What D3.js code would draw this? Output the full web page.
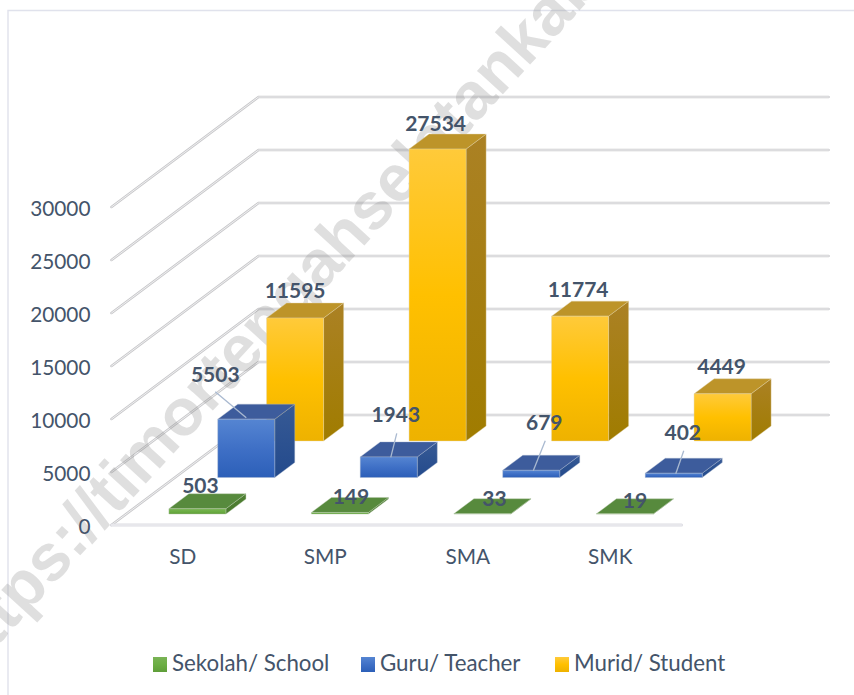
<!DOCTYPE html>
<html><head><meta charset="utf-8">
<script src="https://cdn.jsdelivr.net/npm/d3@7"></script>
<style>html,body{margin:0;padding:0;background:#fff}svg{display:block}text{font-family:Lato,"Open Sans",sans-serif}</style>
</head><body><svg id="c" width="854" height="695"></svg>
<script>
const categories = ["SD","SMP","SMA","SMK"];
const seriesNames = ["Sekolah/ School","Guru/ Teacher","Murid/ Student"];
const sekolah = [503,149,33,19];
const guru = [5503,1943,679,402];
const murid = [11595,27534,11774,4449];
const yTicks = [0,5000,10000,15000,20000,25000,30000];
const watermark = "https://timortengahselatankab";

const svg = d3.select("#c");
const W=854,H=695;
const floorY=525, floorX0=111.5, floorX1=681.5, depthX=147, depthY=110;
const inkText="#44546a";
const x = d3.scaleBand().domain(categories).range([floorX0,floorX1]).paddingInner(0.6).paddingOuter(0.3);
const z = d3.scaleBand().domain(seriesNames).range([0,1]).paddingInner(0.59).paddingOuter(0.3);
const y = d3.scaleLinear().domain([0,30000]).range([0,318]);
const px=(cx,v,d)=>[cx+d*depthX, floorY-y(v)-d*depthY];
const poly=pts=>pts.map(p=>p.join(",")).join(" ");

const defs=svg.append("defs");
function grad(id,stops){const g=defs.append("linearGradient").attr("id",id).attr("x1",0).attr("y1",0).attr("x2",0).attr("y2",1);
 stops.forEach(s=>g.append("stop").attr("offset",s[0]).attr("stop-color",s[1]));}
grad("gF0",[[0,"#7ab356"],[.5,"#6cae44"],[1,"#5f9e39"]]);
grad("gF1",[[0,"#5585d2"],[.5,"#3f70c6"],[1,"#2c5fb8"]]);
grad("gF2",[[0,"#ffca3a"],[.5,"#ffc000"],[1,"#eeb200"]]);
grad("gS1",[[0,"#375a95"],[1,"#234a8c"]]);
grad("gS2",[[0,"#ab8124"],[1,"#a07c00"]]);
grad("gS0",[[0,"#4e7f33"],[1,"#4a7a2e"]]);
const topC=["#578a3d","#3d5c9c","#bd9429"];
const edge=["#b9c9ae","#a9b6cc","#e0d2a6"];

// frame
svg.append("path").attr("d",`M${W} 10.5H8V${H}`).attr("fill","none").attr("stroke","#e0e2ec").attr("stroke-width",1.4);

// grid
const wall=svg.append("g").attr("fill","none").attr("stroke-linecap","round");
yTicks.forEach(t=>{
  const a=px(floorX0,t,0), b=px(floorX0,t,1), c=px(floorX1,t,1);
  const d=`M${a}L${b}L${c}`;
  wall.append("path").attr("d",d).attr("stroke","#c9c9cb").attr("stroke-width",2.6);
  wall.append("path").attr("d",d).attr("stroke","#efeff1").attr("stroke-width",1);
});
const fa=px(floorX0,0,0), fb=px(floorX1,0,0);
wall.append("path").attr("d",`M${fa}L${fb}`).attr("stroke","#dcdce2").attr("stroke-width",3);
wall.append("path").attr("d",`M${fa}L${fb}`).attr("stroke","#f2f2f5").attr("stroke-width",1);

// watermark, behind the bars
svg.append("text").attr("transform","translate(-33,679) rotate(-47.5)")
 .style("font-family","'Liberation Sans',Arial,sans-serif")
 .attr("font-weight",700).attr("font-size",66).attr("fill","#8c8c8c").attr("fill-opacity",.28).text(watermark);

// y axis labels
svg.append("g").selectAll("text").data(yTicks).join("text")
 .attr("x",90.5).attr("y",d=>floorY-y(d)+8.5).attr("text-anchor","end")
 .attr("font-size",20.8).attr("fill",inkText).text(d=>d);
// cat labels
svg.append("g").selectAll("text").data(categories).join("text")
 .attr("x",d=>x(d)+x.bandwidth()/2).attr("y",564).attr("text-anchor","middle")
 .attr("font-size",20.8).attr("fill",inkText).text(d=>d);

// bars, back to front
const series=[sekolah,guru,murid];
for(let s=2;s>=0;s--){
 const name=seriesNames[s], d0=z(name), d1=d0+z.bandwidth();
 categories.forEach((c,i)=>{
  const v=series[s][i], l=x(c), r=l+x.bandwidth();
  const g=svg.append("g").attr("stroke",edge[s]).attr("stroke-width",.4).attr("stroke-linejoin","round");
  g.append("polygon").attr("points",poly([px(r,0,d0),px(r,0,d1),px(r,v,d1),px(r,v,d0)])).attr("fill",`url(#gS${s})`);
  g.append("polygon").attr("points",poly([px(l,v,d0),px(r,v,d0),px(r,v,d1),px(l,v,d1)])).attr("fill",topC[s]);
  g.append("polygon").attr("points",poly([px(l,0,d0),px(r,0,d0),px(r,v,d0),px(l,v,d0)])).attr("fill",`url(#gF${s})`);
 });
}

// label offsets from the top-face centre
const labelDx=[[-7,1,2,0],[-41,-3,3,-1],[-10,-12,-12,-11]];
const labelDy=[[-15,-8,-7,-5],[-37,-34,-40,-33],[-20,-18,-19,-19]];
for(let s=0;s<3;s++){
 const name=seriesNames[s], dm=z(name)+z.bandwidth()/2;
 categories.forEach((c,i)=>{
  const v=series[s][i], p=px(x(c)+x.bandwidth()/2,v,dm);
  const tx=p[0]+labelDx[s][i], ty=p[1]+labelDy[s][i];
  if(s===1){
    const q=[p[0]-(i===0?10:8), p[1]+ (i===0?6:8)];
    svg.append("line").attr("x1",tx+(i===0?0:1)).attr("y1",ty+(i===0?17:18)).attr("x2",q[0]).attr("y2",q[1]).attr("stroke","#a9b9d0").attr("stroke-width",1.3);
  }
  svg.append("text").attr("x",tx).attr("y",ty+7).attr("text-anchor","middle").attr("font-weight",700).attr("font-size",21).attr("fill",inkText).text(v);
 });
}

// legend
const legendX=d3.scaleOrdinal().domain(seriesNames).range([153,361,555]);
const lg=svg.append("g").selectAll("g").data(seriesNames).join("g").attr("transform",d=>`translate(${legendX(d)},657)`);
lg.append("rect").attr("width",14).attr("height",15).attr("fill",(d,i)=>`url(#gF${i})`);
lg.append("text").attr("x",19).attr("y",14).attr("font-size",22.3).attr("fill",inkText).text(d=>d);
</script></body></html>
